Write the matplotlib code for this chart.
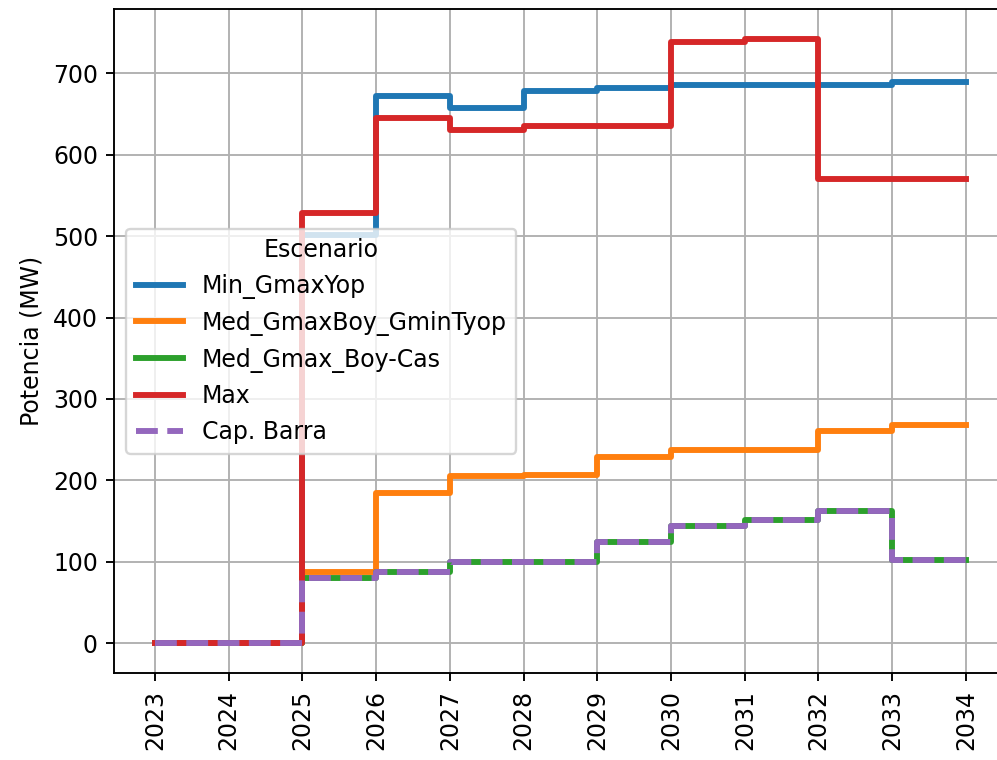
import matplotlib
matplotlib.use('Agg')
import matplotlib.pyplot as plt

years = list(range(2023, 2035))

min_gmax_yop = [0, 0, 502, 672, 657, 678, 682, 686, 686, 686, 689, 689]
med_gmaxboy_gmintyop = [0, 0, 87, 185, 205, 206, 229, 237, 237, 261, 268, 268]
med_gmax_boy_cas = [0, 0, 80, 87, 100, 100, 124, 144, 151, 162, 102, 102]
max_esc = [0, 0, 529, 645, 630, 635, 635, 738, 742, 570, 570, 570]
cap_barra = [0, 0, 80, 87, 100, 100, 124, 144, 151, 162, 102, 102]

fig = plt.figure(figsize=(998 / 170, 760 / 170), dpi=170)
ax = fig.add_axes([0.1147, 0.1141, 0.8938, 0.874])

ax.step(years, min_gmax_yop, where='post', lw=2.5, color='tab:blue', label='Min_GmaxYop')
ax.step(years, med_gmaxboy_gmintyop, where='post', lw=2.5, color='tab:orange', label='Med_GmaxBoy_GminTyop')
ax.step(years, med_gmax_boy_cas, where='post', lw=2.5, color='tab:green', label='Med_Gmax_Boy-Cas')
ax.step(years, max_esc, where='post', lw=2.5, color='tab:red', label='Max')
ax.step(years, cap_barra, where='post', lw=2.5, color='tab:purple', ls='--', label='Cap. Barra')

ax.set_xticks(years)
ax.set_xticklabels([str(y) for y in years], rotation=90)
ax.set_ylabel('Potencia (MW)')
ax.grid(True)
ax.legend(title='Escenario', loc='center left')

fig.savefig('out.png', dpi=170)
